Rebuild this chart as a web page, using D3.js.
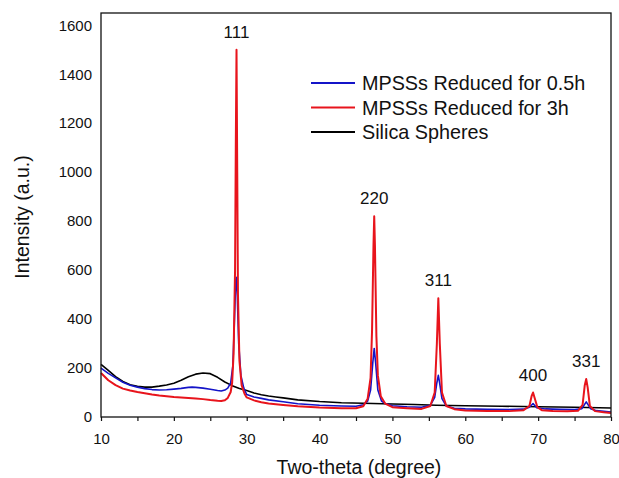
<!DOCTYPE html>
<html>
<head>
<meta charset="utf-8">
<script src="https://cdn.jsdelivr.net/npm/d3@7"></script>
<style>
  body { margin: 0; background: #fff; }
  text { font-family: "Liberation Sans", Arial, sans-serif; fill: #111; }
</style>
</head>
<body>
<div id="chart"></div>
<script>
// series: [two-theta, intensity]
const silica = [
  [10,215],[11,190],[12,165],[13,145],[14,132],[15,125],[16,122],[17,122],[18,126],[19,131],
  [20,138],[21,150],[22,164],[23,175],[24,180],[25,177],[26,162],[27,143],[28,128],[29,116],
  [30,108],[31,98],[32,91],[33,86],[34,82],[35,78],[37,70],[40,63],[43,58],[46,56],
  [50,53],[53,51],[56,48],[60,46],[65,44],[70,42],[75,40],[80,37]
];
const reduced05h = [
  [10,200],[11,178],[12,160],[13,142],[14,130],[15,122],[16,116],[17,112],[18,110],[19,111],
  [20,114],[21,117],[22,121],[22.5,122],[23,121],[24,118],[25,113],[26,108],[26.5,106],[27,110],
  [27.4,118],[27.8,139],[28.1,210],[28.3,380],[28.5,560],[28.6,570],[28.7,500],[28.9,300],[29.2,170],[29.6,118],
  [30,92],[31,82],[32,76],[33,70],[35,62],[37,54],[40,48],[43,45],[45,44],[46,50],
  [46.6,65],[47.0,110],[47.3,220],[47.5,280],[47.7,220],[48.0,110],[48.5,65],[49,55],[50,46],[52,42],
  [54,40],[55.2,48],[55.8,80],[56.1,140],[56.3,170],[56.5,135],[56.8,75],[57.4,45],[58.5,36],[60,33],
  [63,31],[66,30],[68,32],[68.8,40],[69.3,55],[69.8,38],[71,33],[73,31],[75,30],[76,34],
  [76.6,62],[77.2,34],[78,26],[80,20]
];
const reduced3h = [
  [10,180],[11,150],[12,130],[13,116],[14,108],[15,102],[16,97],[17,92],[18,88],[19,85],
  [20,82],[21,80],[22,78],[23,76],[24,73],[25,69],[26,66],[26.5,65],[27,68],[27.4,78],
  [27.8,102],[28.0,140],[28.2,260],[28.4,600],[28.5,1100],[28.6,1500],[28.7,1000],[28.8,500],[29.0,230],[29.3,130],
  [29.7,95],[30,80],[31,68],[32,60],[33,55],[35,49],[37,44],[40,39],[43,36],[45,36],
  [46,44],[46.6,75],[47.0,160],[47.2,350],[47.4,700],[47.5,820],[47.6,700],[47.8,330],[48.0,170],[48.4,85],
  [49,55],[50,40],[52,36],[54,33],[55.2,45],[55.8,100],[56.1,300],[56.3,485],[56.5,300],[56.8,100],
  [57.4,45],[58.5,32],[60,27],[63,25],[66,24],[68,28],[68.8,45],[69.1,85],[69.3,100],[69.5,80],
  [69.9,40],[70.5,28],[72,25],[74,23],[75.5,26],[76.1,50],[76.4,130],[76.6,155],[76.8,120],[77.1,45],
  [77.8,24],[79,19],[80,16]
];

const seriesNames = ["MPSSs Reduced for 0.5h", "MPSSs Reduced for 3h", "Silica Spheres"];
const seriesColors = ["#1414c8", "#e8141c", "#000000"];

const peakLabels = ["111", "220", "311", "400", "331"];
const peakTheta = [28.6, 47.5, 56.3, 69.3, 76.6];
const peakHeight = [1500, 820, 485, 100, 155];

const yTicks = [0, 200, 400, 600, 800, 1000, 1200, 1400, 1600];
const xTicks = [10, 15, 20, 25, 30, 35, 40, 45, 50, 55, 60, 65, 70, 75, 80];

const W = 619, H = 478;
const margin = {top: 13, right: 8, bottom: 61, left: 101},
    width = W - margin.left - margin.right,
    height = H - margin.top - margin.bottom;

const svg = d3.select("#chart")
  .append("svg")
    .attr("width", W)
    .attr("height", H)
  .append("g")
    .attr("transform", `translate(${margin.left},${margin.top})`);

const x = d3.scaleLinear().domain([10, 80]).range([0, width]);
const y = d3.scaleLinear().domain([0, 1650]).range([height, 0]);

// axes
const xAxis = svg.append("g")
    .attr("transform", `translate(0,${height})`)
    .call(d3.axisBottom(x).tickValues(xTicks).tickSize(4).tickPadding(12)
      .tickFormat(d => d % 10 === 0 ? d : ""));
xAxis.select(".domain").remove();
xAxis.selectAll("line").attr("stroke", "#111").attr("stroke-width", 1.2);
xAxis.selectAll("text").style("font-size", "15px").style("font-family", "Liberation Sans, Arial, sans-serif");

const yAxis = svg.append("g")
    .call(d3.axisLeft(y).tickValues(yTicks).tickSize(0).tickPadding(9).tickFormat(d3.format("d")));
yAxis.select(".domain").remove();
yAxis.selectAll("text").style("font-size", "15px").style("font-family", "Liberation Sans, Arial, sans-serif");

// curves
const line = d3.line().x(d => x(d[0])).y(d => y(d[1]));
const drawOrder = [[silica, 2, 1.6], [reduced05h, 0, 1.6], [reduced3h, 1, 2]];
drawOrder.forEach(([data, ci, w]) => {
  svg.append("path")
    .datum(data)
    .attr("fill", "none")
    .attr("stroke", seriesColors[ci])
    .attr("stroke-width", w)
    .attr("stroke-linejoin", "round")
    .attr("d", line);
});

// frame
svg.append("rect")
  .attr("width", width).attr("height", height)
  .attr("fill", "none").attr("stroke", "#111").attr("stroke-width", 1.3);

// peak labels
svg.selectAll(".peak")
  .data(peakLabels)
  .enter().append("text")
    .attr("class", "peak")
    .attr("x", (d, i) => x(peakTheta[i]))
    .attr("y", (d, i) => y(peakHeight[i]) - 18)
    .attr("dy", "0.36em")
    .attr("text-anchor", "middle")
    .style("font-size", "17px")
    .text(d => d);

// legend
const legend = svg.append("g").attr("transform", `translate(${311 - margin.left},${83 - margin.top})`);
seriesNames.forEach((name, i) => {
  const g = legend.append("g").attr("transform", `translate(0,${i * 24.5})`);
  g.append("line").attr("x1", 0).attr("x2", 44).attr("y1", 0).attr("y2", 0)
    .attr("stroke", seriesColors[i]).attr("stroke-width", 2);
  g.append("text").attr("x", 51).attr("dy", "0.36em")
    .style("font-size", "19.8px").text(name);
});

// axis titles
svg.append("text")
  .attr("x", width / 2 + 3).attr("y", height + 57)
  .attr("text-anchor", "middle")
  .style("font-size", "19.5px")
  .text("Two-theta (degree)");

svg.append("text")
  .attr("transform", `translate(${29 - margin.left},${217 - margin.top}) rotate(-90)`)
  .attr("text-anchor", "middle")
  .style("font-size", "19.5px")
  .text("Intensity (a.u.)");
</script>
</body>
</html>
